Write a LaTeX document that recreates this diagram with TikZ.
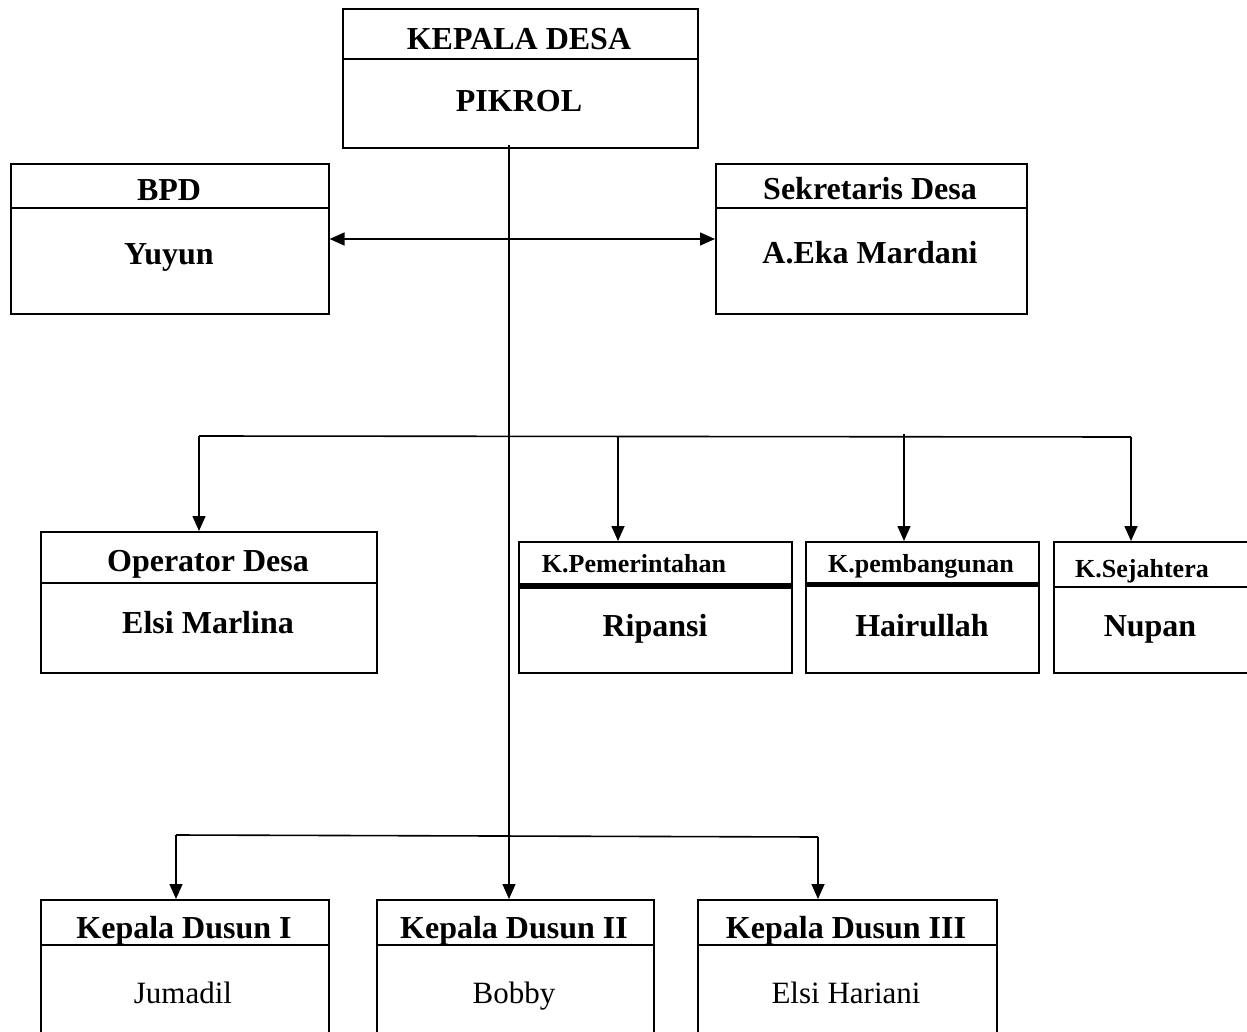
\documentclass[tikz,border=0pt]{standalone}
\usepackage{fontspec}
\setmainfont{Liberation Serif}
\usetikzlibrary{arrows.meta}
\tikzset{
  box/.style={draw, line width=1.6pt, rectangle, inner sep=0pt, anchor=north west},
  divider/.style={line width=1.6pt},
  conn/.style={line width=1.6pt},
  arr/.style={line width=1.6pt, -{Triangle[length=15pt,width=13pt]}},
  trunk/.style={line width=1.3pt},
  big/.style={font=\fontsize{32}{38}\selectfont\bfseries, inner sep=0pt, text height=21pt, text depth=0pt},
  mid/.style={font=\fontsize{26}{31}\selectfont\bfseries, inner sep=0pt, text height=17pt, text depth=0pt},
  reg/.style={font=\fontsize{31}{37}\selectfont, inner sep=0pt, text height=20.5pt, text depth=0pt},
}
\begin{document}
\begin{tikzpicture}[x=1pt,y=-1pt]
\useasboundingbox (0,0) rectangle (1247,1032);
\begin{scope}
\clip (0,0) rectangle (1247,1032);
% boxes
\node[box, minimum width=355pt, minimum height=139pt] (kd) at (342,8) {};
\node[box, minimum width=318pt, minimum height=150pt] (bpd) at (10,163) {};
\node[box, minimum width=311pt, minimum height=150pt] (sek) at (715,163) {};
\node[box, minimum width=336pt, minimum height=141pt] (op) at (40,531) {};
\node[box, minimum width=273pt, minimum height=131pt] (kpem) at (518,541) {};
\node[box, minimum width=233pt, minimum height=131pt] (kpb) at (805,541) {};
\node[box, minimum width=260pt, minimum height=131pt] (ksj) at (1053,541) {};
\node[box, minimum width=288pt, minimum height=160pt] (d1) at (40,899) {};
\node[box, minimum width=277pt, minimum height=160pt] (d2) at (376,899) {};
\node[box, minimum width=299pt, minimum height=160pt] (d3) at (697,899) {};
% dividers
\draw[divider] (kd.west |- 0,59) -- (kd.east |- 0,59);
\draw[divider] (bpd.west |- 0,208) -- (bpd.east |- 0,208);
\draw[divider] (sek.west |- 0,208) -- (sek.east |- 0,208);
\draw[divider] (op.west |- 0,583) -- (op.east |- 0,583);
\draw[line width=6pt] (kpem.west |- 0,585.5) -- (kpem.east |- 0,585.5);
\draw[line width=4.5pt] (kpb.west |- 0,584.5) -- (kpb.east |- 0,584.5);
\draw[divider] (ksj.west |- 0,587) -- (ksj.east |- 0,587);
\draw[divider] (d1.west |- 0,945) -- (d1.east |- 0,945);
\draw[divider] (d2.west |- 0,945) -- (d2.east |- 0,945);
\draw[divider] (d3.west |- 0,945) -- (d3.east |- 0,945);
% texts
\node[big] (t-kd) at (519,39) {KEPALA DESA};
\node[big] (t-pik) at (519,101) {PIKROL};
\node[big] (t-bpd) at (169,190) {BPD};
\node[big] (t-yuy) at (169,254) {Yuyun};
\node[big] (t-sek) at (870,189) {Sekretaris Desa};
\node[big] (t-eka) at (870,253) {A.Eka Mardani};
\node[big] (t-op) at (208,561) {Operator Desa};
\node[big] (t-els) at (208,623) {Elsi Marlina};
\node[mid] (t-kpem) at (634,564) {K.Pemerintahan};
\node[big] (t-rip) at (655,626) {Ripansi};
\node[mid] (t-kpb) at (921,564) {K.pembangunan};
\node[big] (t-hai) at (922,626) {Hairullah};
\node[mid] (t-ksj) at (1142,569) {K.Sejahtera};
\node[big] (t-nup) at (1150,626) {Nupan};
\node[big] (t-d1) at (184,928) {Kepala Dusun I};
\node[reg] (t-jum) at (183,993) {Jumadil};
\node[big] (t-d2) at (514,928) {Kepala Dusun II};
\node[reg] (t-bob) at (514,993) {Bobby};
\node[big] (t-d3) at (846,928) {Kepala Dusun III};
\node[reg] (t-eh) at (846,993) {Elsi Hariani};
% connectors
\coordinate (tr) at (509,145);
\coordinate (hx) at (509,239);
\draw[trunk, -{Triangle[length=15pt,width=13pt]}] (tr) -- (tr |- d2.north);
\draw[arr] (hx) -- (hx -| bpd.east);
\draw[arr] (hx) -- (hx -| sek.west);
% middle branch
\coordinate (m1) at (199,436);
\coordinate (m2) at (618,436);
\coordinate (m3) at (904,434);
\coordinate (m4) at (1131,437);
\draw[conn] (m1) -- (m4);
\draw[arr] (m1) -- (m1 |- op.north);
\draw[arr] (m2) -- (m2 |- kpem.north);
\draw[arr] (m3) -- (m3 |- kpb.north);
\draw[arr] (m4) -- (m4 |- ksj.north);
% dusun branch
\coordinate (n1) at (176,835);
\coordinate (n3) at (818,837);
\draw[conn] (n1) -- (n3);
\draw[arr] (n1) -- (n1 |- d1.north);
\draw[arr] (n3) -- (n3 |- d3.north);
\end{scope}
\end{tikzpicture}
\end{document}
